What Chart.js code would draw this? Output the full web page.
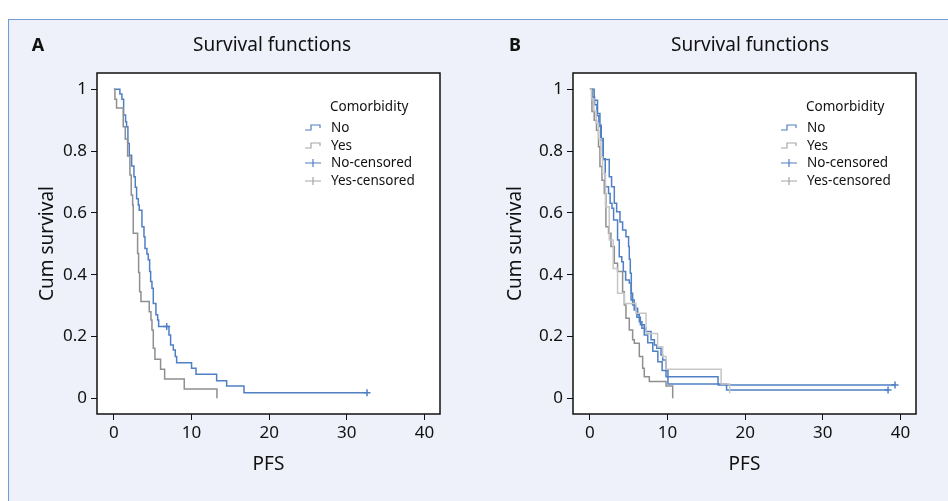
<!DOCTYPE html>
<html>
<head>
<meta charset="utf-8">
<script src="https://cdn.jsdelivr.net/npm/chart.js@4/dist/chart.umd.min.js"></script>
<style>
  html, body { margin: 0; padding: 0; width: 948px; height: 501px; overflow: hidden; background: #fff; }
  #frame { position: absolute; left: 8px; top: 19px; width: 960px; height: 500px; background: #eef1f9; border: 1px solid #6f9bd6; }
  .panel { position: absolute; top: 0; width: 474px; height: 501px; }
  #wrapA { left: 0; }
  #wrapB { left: 476px; }
</style>
</head>
<body>
<div id="frame"></div>
<div class="panel" id="wrapA"><canvas id="chartA" width="474" height="501"></canvas></div>
<div class="panel" id="wrapB"><canvas id="chartB" width="474" height="501"></canvas></div>
<script>
// Panel A - survival estimates
const aNoTime = [0, 0.77, 1.03, 1.25, 1.50, 1.63, 1.80, 1.98, 2.28, 2.58, 2.75, 2.92, 3.14, 3.26, 3.61, 3.87, 4.00, 4.25, 4.42, 4.60, 4.73, 4.90, 5.07, 5.41, 5.63, 5.76, 7.09, 7.30, 7.65, 7.90, 8.08, 10.0, 10.57, 13.23, 14.52, 16.75, 32.6];
const aNoSurv = [1, 0.985, 0.968, 0.917, 0.895, 0.879, 0.825, 0.787, 0.752, 0.717, 0.683, 0.646, 0.626, 0.609, 0.555, 0.523, 0.485, 0.467, 0.448, 0.410, 0.378, 0.356, 0.307, 0.270, 0.253, 0.232, 0.205, 0.172, 0.156, 0.135, 0.115, 0.097, 0.078, 0.057, 0.040, 0.018, 0.018];
const aYesTime = [0, 0.13, 0.34, 1.20, 1.46, 1.76, 2.06, 2.23, 2.41, 2.49, 3.05, 3.18, 3.31, 3.48, 4.55, 4.77, 4.90, 5.07, 5.28, 6.01, 6.53, 9.06, 13.27];
const aYesSurv = [1, 0.968, 0.940, 0.879, 0.839, 0.784, 0.723, 0.658, 0.626, 0.534, 0.469, 0.407, 0.345, 0.313, 0.280, 0.253, 0.221, 0.162, 0.126, 0.094, 0.062, 0.030, 0];
const aNoCensTime = [6.8, 32.6];
const aNoCensSurv = [0.232, 0.018];

// Panel B
const bNo1Time = [0, 0.55, 0.98, 1.29, 1.46, 1.72, 2.49, 2.79, 3.14, 3.44, 3.87, 4.21, 4.64, 4.98, 5.07, 5.2, 5.33, 5.5, 5.85, 6.15, 6.36, 6.7, 7.23, 7.87, 8.3, 8.6, 9.16, 9.37, 9.8, 16.5, 39.3];
const bNo1Surv = [1, 0.965, 0.922, 0.884, 0.841, 0.773, 0.717, 0.685, 0.631, 0.604, 0.571, 0.545, 0.523, 0.491, 0.45, 0.405, 0.34, 0.302, 0.291, 0.27, 0.248, 0.227, 0.216, 0.189, 0.172, 0.162, 0.14, 0.124, 0.07, 0.043, 0.043];
const bNo2Time = [0, 0.35, 0.6, 0.9, 1.15, 1.4, 1.7, 1.97, 2.4, 2.6, 2.84, 3.05, 3.56, 3.78, 4.1, 4.3, 4.6, 5.07, 5.3, 5.7, 6.05, 6.5, 7.0, 7.45, 8.1, 8.75, 9.3, 10.05, 17.6, 38.4];
const bNo2Surv = [1, 0.975, 0.95, 0.915, 0.88, 0.835, 0.775, 0.685, 0.663, 0.631, 0.615, 0.577, 0.512, 0.458, 0.442, 0.41, 0.383, 0.373, 0.318, 0.286, 0.262, 0.238, 0.205, 0.18, 0.152, 0.118, 0.09, 0.046, 0.027, 0.027];
const bYes1Time = [0, 0.26, 0.55, 0.85, 1.11, 1.29, 1.55, 1.85, 2.06, 2.4, 2.71, 3.14, 3.56, 4.21, 4.43, 4.64, 5.07, 5.5, 5.72, 6.36, 6.79, 7.0, 7.65, 9.8, 10.66];
const bYes1Surv = [1, 0.928, 0.9, 0.868, 0.814, 0.75, 0.706, 0.663, 0.555, 0.534, 0.491, 0.437, 0.41, 0.345, 0.302, 0.259, 0.221, 0.189, 0.178, 0.135, 0.097, 0.07, 0.054, 0.04, 0];
const bYes2Time = [0, 0.2, 0.5, 0.8, 1.1, 1.42, 1.63, 2.0, 2.49, 3.0, 3.56, 4.43, 5.93, 7.23, 8.72, 9.37, 9.8, 16.9, 18.0];
const bYes2Surv = [1, 0.97, 0.93, 0.89, 0.84, 0.782, 0.728, 0.62, 0.512, 0.42, 0.34, 0.307, 0.275, 0.21, 0.167, 0.135, 0.094, 0.046, 0.016];
const bNoCensTime = [39.3, 38.4];
const bNoCensSurv = [0.043, 0.027];

const xTicks = [0, 10, 20, 30, 40];
const yTicks = [0, 0.2, 0.4, 0.6, 0.8, 1];
const legendTitle = 'Comorbidity';
const legendLabels = ['No', 'Yes', 'No-censored', 'Yes-censored'];
const chartTitle = 'Survival functions';

const BLUE = '#4f80c4';
const GRAY = '#8f8f8f';
const LIGHT = '#c6c6c6';
const FONT = '"Noto Sans", "Open Sans", sans-serif';

function pts(t, s) {
  return t.map((v, i) => ({ x: v, y: s[i] }));
}

function curve(t, s, color) {
  return {
    data: pts(t, s),
    borderColor: color,
    borderWidth: 1.5,
    pointRadius: 0,
    stepped: 'before',
    fill: false
  };
}

function censored(t, s, color) {
  return {
    data: pts(t, s),
    showLine: false,
    pointStyle: 'cross',
    pointRadius: 3.5,
    pointBorderColor: color,
    pointBorderWidth: 1.5,
    borderColor: color
  };
}

// white plot area, frame, headings and the legend
const decor = {
  id: 'decor',
  beforeDraw(chart) {
    const { ctx, chartArea: a } = chart;
    ctx.save();
    ctx.fillStyle = '#fff';
    ctx.fillRect(a.left, a.top, a.right - a.left, a.bottom - a.top);
    ctx.restore();
  },
  afterDraw(chart, args, o) {
    const { ctx, chartArea: a } = chart;
    ctx.save();
    ctx.strokeStyle = '#111';
    ctx.lineWidth = 1.5;
    ctx.strokeRect(a.left, a.top, a.right - a.left, a.bottom - a.top);

    ctx.fillStyle = '#111';
    ctx.textBaseline = 'middle';
    ctx.textAlign = 'center';
    ctx.font = 'bold 18px ' + FONT;
    ctx.fillText(o.letter, o.letterX, 46);
    ctx.font = '19px ' + FONT;
    ctx.fillText(chartTitle, o.titleX, 46);

    // legend
    const lx = 330, ly = 107;
    ctx.textAlign = 'left';
    ctx.font = '13.5px ' + FONT;
    ctx.fillText(legendTitle, lx, ly);
    const rows = [128, 146, 163, 181];
    const cols = [BLUE, '#a6a6a6', BLUE, '#a6a6a6'];
    legendLabels.forEach((lab, i) => {
      const y = rows[i];
      ctx.fillStyle = '#111';
      ctx.fillText(lab, lx + 1, y);
      ctx.strokeStyle = cols[i];
      ctx.lineWidth = 1.2;
      ctx.beginPath();
      if (i < 2) {
        ctx.moveTo(305, y + 2);
        ctx.lineTo(311, y + 2);
        ctx.lineTo(311, y - 3);
        ctx.lineTo(320, y - 3);
        ctx.lineTo(320, y);
      } else {
        ctx.moveTo(305, y);
        ctx.lineTo(321, y);
        ctx.moveTo(313, y - 4);
        ctx.lineTo(313, y + 4);
      }
      ctx.stroke();
    });
    ctx.restore();
  }
};

function makeChart(id, datasets, o) {
  return new Chart(document.getElementById(id).getContext('2d'), {
    type: 'line',
    data: { datasets },
    options: {
      responsive: false,
      animation: false,
      layout: { padding: { left: 0, top: 73, right: 34, bottom: 0 } },
      plugins: {
        legend: { display: false },
        tooltip: { enabled: false },
        decor: o
      },
      scales: {
        x: {
          type: 'linear',
          min: -2.18,
          max: 42.0,
          afterBuildTicks: s => { s.ticks = xTicks.map(v => ({ value: v })); },
          afterFit: s => { s.height = 87; },
          grid: { drawOnChartArea: false, drawTicks: true, tickLength: 6, color: '#111', lineWidth: 1 },
          border: { display: false },
          ticks: { color: '#111', font: { family: FONT, size: 17 }, padding: 3, maxRotation: 0 },
          title: { display: true, text: 'PFS', color: '#111', font: { family: FONT, size: 19 }, padding: { bottom: 25 } }
        },
        y: {
          min: -0.051,
          max: 1.053,
          afterBuildTicks: s => { s.ticks = yTicks.map(v => ({ value: v })); },
          afterFit: s => { s.width = 97; },
          grid: { drawOnChartArea: false, drawTicks: true, tickLength: 6, color: '#111', lineWidth: 1 },
          border: { display: false },
          ticks: { color: '#111', font: { family: FONT, size: 17 }, padding: 4, callback: v => String(+v.toFixed(1)) },
          title: { display: true, text: 'Cum survival', color: '#111', font: { family: FONT, size: 19 }, padding: { top: o.yTitlePad } }
        }
      }
    },
    plugins: [decor]
  });
}

makeChart('chartA', [
  curve(aYesTime, aYesSurv, GRAY),
  curve(aNoTime, aNoSurv, BLUE),
  censored(aNoCensTime, aNoCensSurv, BLUE)
], { letter: 'A', letterX: 38, titleX: 272, yTitlePad: 36 });

makeChart('chartB', [
  curve(bYes2Time, bYes2Surv, LIGHT),
  curve(bYes1Time, bYes1Surv, GRAY),
  curve(bNo2Time, bNo2Surv, BLUE),
  curve(bNo1Time, bNo1Surv, BLUE),
  censored(bNoCensTime, bNoCensSurv, BLUE)
], { letter: 'B', letterX: 39, titleX: 274, yTitlePad: 28 });
</script>
</body>
</html>
